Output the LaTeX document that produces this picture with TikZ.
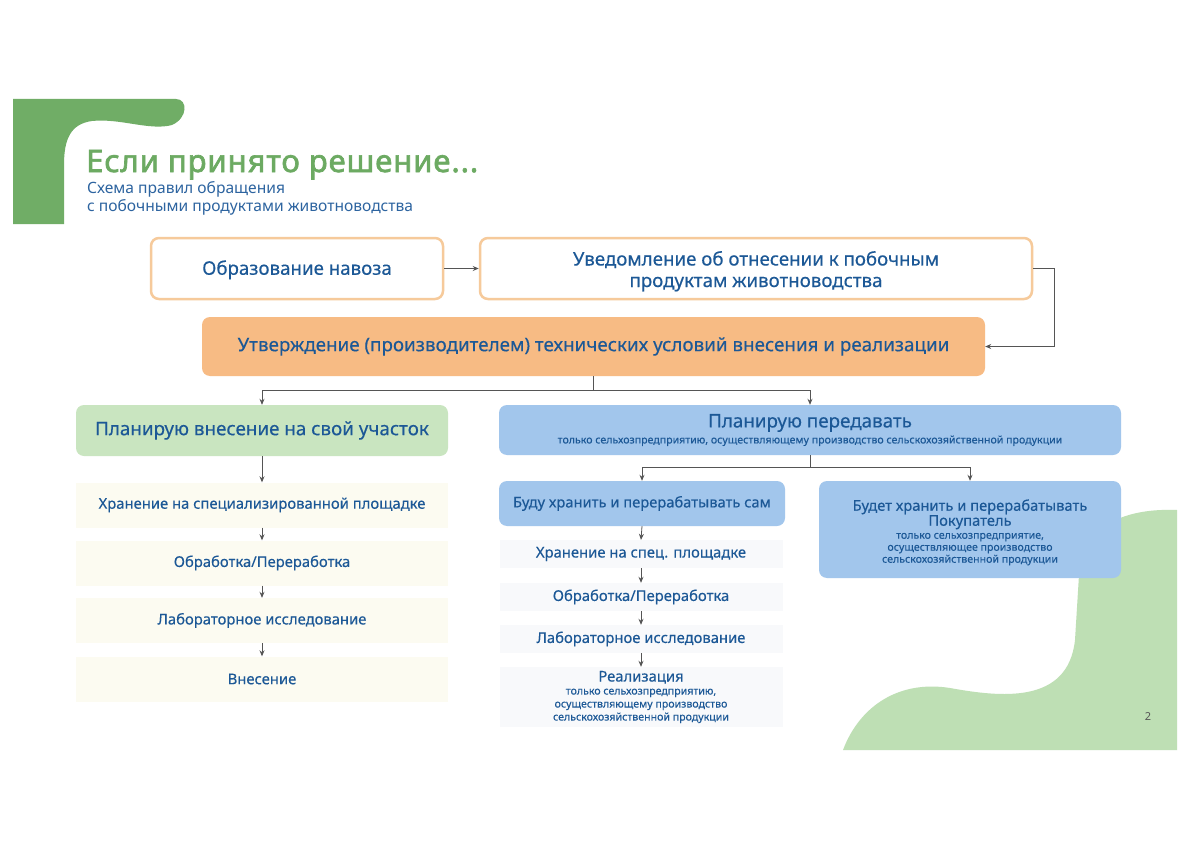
\documentclass[tikz,border=0pt]{standalone}
\usepackage{fontspec}
\setmainfont{Noto Sans}
\newfontfamily\medfont[FakeBold=0.3]{Noto Sans}
\newfontfamily\titlefont[FakeBold=2.2,LetterSpace=3]{Noto Sans}
\usetikzlibrary{arrows.meta}
\definecolor{tblue}{RGB}{28,88,150}
\definecolor{sblue}{RGB}{45,100,160}
\definecolor{tgreen}{RGB}{108,170,98}
\definecolor{dgreen}{RGB}{112,173,102}
\definecolor{lgreen}{RGB}{190,223,180}
\definecolor{grfill}{RGB}{201,229,192}
\definecolor{orfill}{RGB}{247,187,132}
\definecolor{bord}{RGB}{246,202,155}
\definecolor{blfill}{RGB}{162,198,236}
\definecolor{agray}{RGB}{85,85,85}
\definecolor{bandY}{RGB}{252,251,241}
\definecolor{bandB}{RGB}{248,249,251}
\newcommand{\smalltxt}{\fontsize{10.6}{12}\selectfont}
\begin{document}
\begin{tikzpicture}[x=1pt,y=-1pt,
  box/.style={rounded corners=8pt, align=center, text=tblue, inner sep=0pt},
  wbox/.style={box, draw=bord, line width=2.5pt, fill=white, font=\medfont\fontsize{18.7}{21.5}\selectfont},
  obox/.style={box, fill=orfill, font=\medfont\fontsize{18.8}{21}\selectfont},
  gbox/.style={box, fill=grfill, font=\medfont\fontsize{18.8}{22}\selectfont},
  bbox/.style={box, fill=blfill, font=\medfont\fontsize{14.7}{15}\selectfont},
  lband/.style={inner sep=0pt, align=center, text=tblue, fill=bandY, minimum width=372pt, minimum height=45pt, font=\medfont\fontsize{14.8}{17}\selectfont},
  rband/.style={inner sep=0pt, align=center, text=tblue, fill=bandB, minimum width=283pt, minimum height=28pt, font=\medfont\fontsize{14.8}{13}\selectfont},
  arr/.style={draw=agray, line width=0.8pt, -{Stealth[length=6pt,width=5pt]}},
  ln/.style={draw=agray, line width=0.8pt}]
\useasboundingbox[fill=white] (0,0) rectangle (1200,848);

% decorative shapes
\fill[dgreen] (13,99) -- (176,99) .. controls (188,99) and (188,118) .. (172,125)
  .. controls (150,131) and (120,118) .. (92,121)
  .. controls (70,124) and (64,140) .. (64,165) -- (64,224) -- (13,224) -- cycle;
\fill[lgreen] (843,750) .. controls (860,705) and (900,680) .. (950,688)
  .. controls (1000,697) and (1068,705) .. (1075,640) -- (1079,575)
  .. controls (1083,525) and (1125,508) .. (1177,510) -- (1177,750) -- cycle;

% title
\node[anchor=base west, inner sep=0pt, text=tgreen, font=\titlefont\fontsize{31}{34}\selectfont] (title) at (86,172) {Если принято решение...};
\node[anchor=north west, inner sep=0pt, align=left, text=sblue, font=\fontsize{15.6}{18}\selectfont] (sub) at (87,181) {Схема правил обращения\\с побочными продуктами животноводства};
\node[text=agray, font=\fontsize{11}{12}\selectfont] (pnum) at (1148,717) {2};

% top row
\node[wbox, minimum width=292pt, minimum height=61pt] (b1) at (297,268.5) {\rule{0pt}{17pt}Образование навоза};
\node[wbox, minimum width=552pt, minimum height=61pt] (b2) at (756,268.5) {\rule{0pt}{20pt}Уведомление об отнесении к побочным\\продуктам животноводства};
\node[obox, minimum width=783pt, minimum height=59pt] (b3) at (593.5,346.5) {Утверждение (производителем) технических условий внесения и реализации};

% branches
\node[gbox, minimum width=372pt, minimum height=51pt] (b4) at (262,430.5) {Планирую внесение на свой участок};
\node[bbox, minimum width=622pt, minimum height=50pt] (b5) at (810,430) {{\fontsize{18.8}{20}\selectfont Планирую передавать}\\[1pt]{\fontsize{10.6}{10}\selectfont только сельхозпредприятию, осуществляющему производство сельскохозяйственной продукции}};
\node[bbox, minimum width=286pt, minimum height=45pt] (b6) at (642,503.5) {Буду хранить и перерабатывать сам};
\node[bbox, minimum width=302pt, minimum height=97pt] (b7) at (970,529.5) {\rule{0pt}{17pt}Будет хранить и перерабатывать\\Покупатель\\[-2pt]{\smalltxt только сельхозпредприятие,}\\[-3pt]{\smalltxt осуществляющее производство}\\[-3pt]{\smalltxt сельскохозяйственной продукции}};

% left column
\node[lband] (l1) at (262,505) {Хранение на специализированной площадке};
\node[lband] (l2) at (262,563) {Обработка/Переработка};
\node[lband] (l3) at (262,620.5) {Лабораторное исследование};
\node[lband] (l4) at (262,679) {Внесение};

% right column
\node[rband] (r1) at (641,554) {Хранение на спец. площадке};
\node[rband] (r2) at (641,597) {Обработка/Переработка};
\node[rband] (r3) at (641,639) {Лабораторное исследование};
\node[rband, minimum height=60pt] (r4) at (641,697) {Реализация\\[0pt]{\smalltxt только сельхозпредприятию,}\\{\smalltxt осуществляющему производство}\\{\smalltxt сельскохозяйственной продукции}};

% connectors
\draw[arr] (b1.east) -- (b2.west);
\draw[arr] (b2.east) -- ++(21,0) |- (b3.east);
\draw[ln] (b3.south) -- ++(0,14) coordinate (j1);
\draw[arr] (j1) -| (b4.north);
\draw[arr] (j1) -| (b5.north);
\draw[ln] (b5.south) -- ++(0,12) coordinate (j2);
\draw[arr] (j2) -| (b6.north);
\draw[arr] (j2) -| (b7.north);
\draw[arr] (b4.south) -- (l1.north);
\draw[arr] (l1.south) -- (l2.north);
\draw[arr] (l2.south) -- (l3.north);
\draw[arr] (l3.south) -- (l4.north);
\draw[arr] (b6.south) -- (r1.north);
\draw[arr] (r1.south) -- (r2.north);
\draw[arr] (r2.south) -- (r3.north);
\draw[arr] (r3.south) -- (r4.north);
\end{tikzpicture}
\end{document}
